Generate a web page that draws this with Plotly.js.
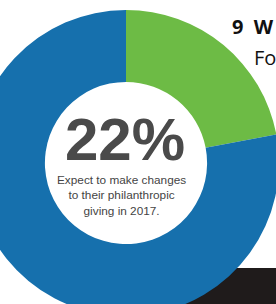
<!DOCTYPE html>
<html><head><meta charset="utf-8">
<script src="https://cdn.plot.ly/plotly-3.0.1.min.js"></script>
<style>
html,body{margin:0;padding:0;width:276px;height:304px;overflow:hidden;background:#fff;position:relative}
#chart{position:absolute;left:-27px;top:0;width:306px;height:316px}
</style></head><body>
<div id="chart"></div>
<script>
var labels = ["Expect to make changes", "No changes"];
var values = [22, 78];
var colors = ["#6dbb45", "#1670ad"];
var bigLabel = "22%";
var subLabel = ["Expect to make changes", "to their philanthropic", "giving in 2017."];

// page pixel -> paper helpers (div spans x -27..279, y 0..316)
function px(x){return (x+27)/306;}
function py(y){return 1 - y/316;}

var trace = {
  type: "pie",
  labels: labels,
  values: values,
  hole: 0.53,
  sort: false,
  direction: "clockwise",
  rotation: 0,
  textinfo: "none",
  hoverinfo: "label+percent",
  marker: {colors: colors, line: {width: 0}},
  domain: {x: [0, 1], y: [py(316), py(10)]},
  showlegend: false
};

var layout = {
  width: 306, height: 316,
  margin: {l: 0, r: 0, t: 0, b: 0},
  paper_bgcolor: "#ffffff",
  showlegend: false,
  shapes: [{
    type: "rect", xref: "paper", yref: "paper", layer: "below",
    x0: px(170), x1: px(290), y0: py(268), y1: py(320),
    fillcolor: "#1f1b1b", line: {width: 0}
  }],
  annotations: [
    {text: "<b>" + bigLabel + "</b>", xref: "paper", yref: "paper", x: px(125), y: py(140),
     showarrow: false, xanchor: "center", yanchor: "middle",
     font: {family: "Liberation Sans, Arial, sans-serif", size: 60, color: "#4a4a4a"}},
    {text: subLabel.join("<br>"), xref: "paper", yref: "paper", x: px(121), y: py(195),
     showarrow: false, xanchor: "center", yanchor: "middle",
     font: {family: "Liberation Sans, Arial, sans-serif", size: 11.8, color: "#444444"}},
    {text: "<b>9\u00a0\u00a0W</b>", xref: "paper", yref: "paper", x: px(230), y: py(26),
     showarrow: false, xanchor: "left", yanchor: "middle",
     font: {family: "Open Sans, sans-serif", size: 20, color: "#111111"}},
    {text: "Fo", xref: "paper", yref: "paper", x: px(252), y: py(58),
     showarrow: false, xanchor: "left", yanchor: "middle",
     font: {family: "Open Sans, sans-serif", size: 20, color: "#111111"}}
  ]
};

Plotly.newPlot("chart", [trace], layout, {displayModeBar: false, staticPlot: true});
</script>
</body></html>
